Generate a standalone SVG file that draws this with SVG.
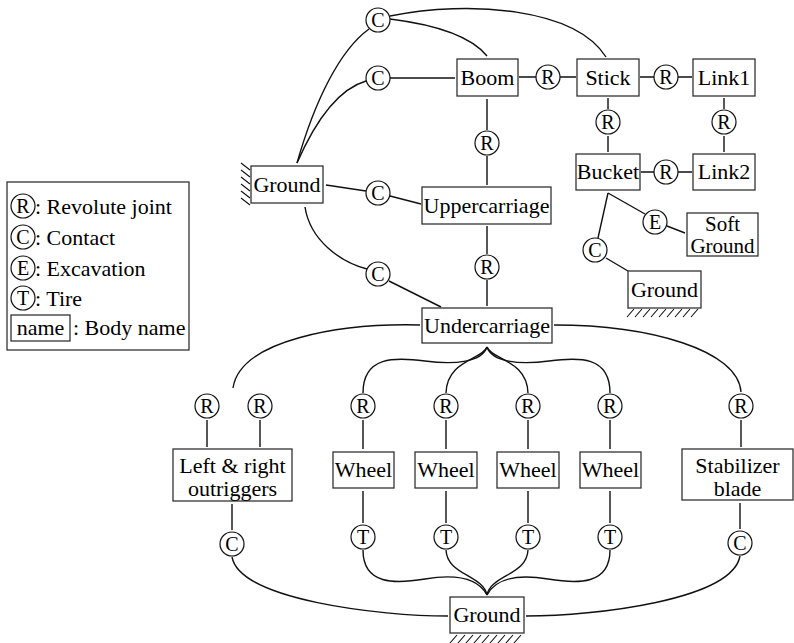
<svg xmlns="http://www.w3.org/2000/svg" width="794" height="643" viewBox="0 0 794 643">
<style>
.b{fill:#fff;stroke:#333;stroke-width:1.3}
.j{fill:#fff;stroke:#111;stroke-width:1.2}
text{font-family:"Liberation Serif","Times New Roman",serif;fill:#000}
.t{font-size:22px;text-anchor:middle}
.t2{font-size:21px;text-anchor:middle}
.jt{font-size:20px;text-anchor:middle}
.lt{font-size:22px}
.e{fill:none;stroke:#111;stroke-width:1.4}
.h{fill:none;stroke:#111;stroke-width:1.1}
</style>
<rect width="794" height="643" fill="#fff"/>

<g id="connectors">
<path class="e" d="M297,163 C315,100 340,50 369,29"/>
<path class="e" d="M297,163 C318,115 342,88 366,81"/>
<path class="e" d="M390,19 C430,24 470,35 487,56"/>
<path class="e" d="M390,16 C470,0 575,8 606,57"/>
<path class="e" d="M390,78 L455,78"/>
<path class="e" d="M519,77 L536,77 M560,77 L576,77"/>
<path class="e" d="M640,77 L654,77 M678,77 L692,77"/>
<path class="e" d="M487,99 L487,130 M487,156 L487,185"/>
<path class="e" d="M608,98 L608,109 M608,136 L608,152"/>
<path class="e" d="M724,98 L724,109 M724,136 L724,152"/>
<path class="e" d="M641,172 L654,172 M678,172 L692,172"/>
<path class="e" d="M608,193 L645,214 M667,226 L685,233"/>
<path class="e" d="M608,193 L598,238 M606,258 L628,271"/>
<path class="e" d="M326,185 L366,191 M390,196 L421,204"/>
<path class="e" d="M487,226 L487,254 M487,280 L487,306"/>
<path class="e" d="M305,207 C310,240 340,262 367,269 M389,281 L441,307"/>
<path class="e" d="M420,325 C340,323 240,340 233,388"/>
<path class="e" d="M554,325 C650,325 738,350 741,392"/>
<path class="e" d="M487,347 C482,362 455,365 425,361 C395,357 363,356 363,393"/>
<path class="e" d="M487,347 C482,360 447,360 446,393"/>
<path class="e" d="M487,347 C492,360 527,360 528,393"/>
<path class="e" d="M487,347 C492,362 519,365 549,361 C579,357 610,356 610,393"/>
<path class="e" d="M207,420 L207,447 M260,420 L260,447"/>
<path class="e" d="M363,420 L363,449 M446,420 L446,449 M528,420 L528,449 M610,420 L610,449"/>
<path class="e" d="M741,420 L741,447"/>
<path class="e" d="M232,504 L232,530 M740,503 L740,529"/>
<path class="e" d="M363,491 L363,523 M446,491 L446,523 M528,491 L528,523 M610,491 L610,523"/>
<path class="e" d="M363,550 C363,585 395,584 425,579 C455,574 478,578 487,595"/>
<path class="e" d="M446,550 C447,575 483,575 487,595"/>
<path class="e" d="M528,550 C527,575 491,575 487,595"/>
<path class="e" d="M610,550 C610,585 578,584 548,579 C518,574 496,578 487,595"/>
<path class="e" d="M232,557 C240,600 380,616 448,616"/>
<path class="e" d="M740,556 C732,600 595,616 526,616"/>
</g>

<g id="legend">
<rect class="b" x="7" y="182" width="182" height="168"/>
<circle class="j" cx="23" cy="206" r="12"/><text class="jt" x="23" y="213">R</text>
<text class="lt" x="35" y="214">: Revolute joint</text>
<circle class="j" cx="23" cy="237" r="12"/><text class="jt" x="23" y="244">C</text>
<text class="lt" x="35" y="245">: Contact</text>
<circle class="j" cx="23" cy="268" r="12"/><text class="jt" x="23" y="275">E</text>
<text class="lt" x="35" y="276">: Excavation</text>
<circle class="j" cx="23" cy="298" r="12"/><text class="jt" x="23" y="305">T</text>
<text class="lt" x="35" y="306">: Tire</text>
<rect class="b" x="11" y="315" width="59" height="26"/><text class="t" x="40.5" y="335">name</text>
<text class="lt" x="73" y="335">: Body name</text>
</g>

<g id="boom"><rect class="b" x="457" y="59" width="61" height="37"/><text class="t" x="487.5" y="85">Boom</text></g>
<g id="stick"><rect class="b" x="577" y="59" width="62" height="37"/><text class="t" x="608" y="85">Stick</text></g>
<g id="link1"><rect class="b" x="693" y="59" width="62" height="37"/><text class="t" x="724" y="85">Link1</text></g>
<g id="bucket"><rect class="b" x="576" y="154" width="64" height="36"/><text class="t" x="608" y="179">Bucket</text></g>
<g id="link2"><rect class="b" x="693" y="154" width="62" height="36"/><text class="t" x="724" y="179">Link2</text></g>
<g id="softground"><rect class="b" x="687" y="213" width="71" height="43"/><text class="t2" x="722.5" y="231">Soft</text><text class="t2" x="722.5" y="253">Ground</text></g>
<g id="ground-bucket"><rect class="b" x="628" y="271" width="73" height="37"/><text class="t" x="664.5" y="297">Ground</text>
<path class="h" d="M627,317 L634,309 M635,317 L642,309 M643,317 L650,309 M651,317 L658,309 M659,317 L666,309 M667,317 L674,309 M675,317 L682,309 M683,317 L690,309 M691,317 L698,309"/></g>
<g id="ground-left"><rect class="b" x="251" y="166" width="72" height="37"/><text class="t" x="287" y="192">Ground</text>
<path class="h" d="M241,163 L250,170 M241,170 L250,177 M241,177 L250,184 M241,184 L250,191 M241,191 L250,198 M241,198 L250,205"/></g>
<g id="uppercarriage"><rect class="b" x="422" y="187" width="129" height="37"/><text class="t" x="486.5" y="213">Uppercarriage</text></g>
<g id="undercarriage"><rect class="b" x="422" y="308" width="130" height="35"/><text class="t" x="487" y="333">Undercarriage</text></g>
<g id="outriggers"><rect class="b" x="173" y="449" width="119" height="52"/><text class="t" x="232.5" y="473">Left &amp; right</text><text class="t" x="232.5" y="496">outriggers</text></g>
<g id="wheel1"><rect class="b" x="333" y="452" width="61" height="36"/><text class="t" x="363.5" y="477">Wheel</text></g>
<g id="wheel2"><rect class="b" x="415" y="452" width="62" height="36"/><text class="t" x="446" y="477">Wheel</text></g>
<g id="wheel3"><rect class="b" x="497" y="452" width="62" height="36"/><text class="t" x="528" y="477">Wheel</text></g>
<g id="wheel4"><rect class="b" x="580" y="452" width="61" height="36"/><text class="t" x="610.5" y="477">Wheel</text></g>
<g id="stabilizer"><rect class="b" x="682" y="449" width="111" height="51"/><text class="t" x="737.5" y="473">Stabilizer</text><text class="t" x="737.5" y="496">blade</text></g>
<g id="ground-bottom"><rect class="b" x="450" y="597" width="74" height="36"/><text class="t" x="487" y="622">Ground</text>
<path class="h" d="M450,643 L457,635 M458,643 L465,635 M466,643 L473,635 M474,643 L481,635 M482,643 L489,635 M490,643 L497,635 M498,643 L505,635 M506,643 L513,635 M514,643 L521,635"/></g>

<g id="j-c-top"><circle class="j" cx="378" cy="20" r="12"/><text class="jt" x="378" y="27">C</text></g>
<g id="j-c-boom"><circle class="j" cx="378" cy="78" r="12"/><text class="jt" x="378" y="85">C</text></g>
<g id="j-r-boom-stick"><circle class="j" cx="548" cy="77" r="12"/><text class="jt" x="548" y="84">R</text></g>
<g id="j-r-stick-link1"><circle class="j" cx="666" cy="77" r="12"/><text class="jt" x="666" y="84">R</text></g>
<g id="j-r-boom-upper"><circle class="j" cx="487" cy="143" r="12"/><text class="jt" x="487" y="150">R</text></g>
<g id="j-r-stick-bucket"><circle class="j" cx="608" cy="122" r="12"/><text class="jt" x="608" y="129">R</text></g>
<g id="j-r-link1-link2"><circle class="j" cx="724" cy="122" r="12"/><text class="jt" x="724" y="129">R</text></g>
<g id="j-r-bucket-link2"><circle class="j" cx="666" cy="172" r="12"/><text class="jt" x="666" y="179">R</text></g>
<g id="j-e"><circle class="j" cx="655" cy="222" r="12"/><text class="jt" x="655" y="229">E</text></g>
<g id="j-c-bucket"><circle class="j" cx="595" cy="250" r="12"/><text class="jt" x="595" y="257">C</text></g>
<g id="j-c-upper"><circle class="j" cx="378" cy="193" r="12"/><text class="jt" x="378" y="200">C</text></g>
<g id="j-r-upper-under"><circle class="j" cx="487" cy="267" r="12"/><text class="jt" x="487" y="274">R</text></g>
<g id="j-c-under"><circle class="j" cx="378" cy="274" r="12"/><text class="jt" x="378" y="281">C</text></g>
<g id="j-r-out1"><circle class="j" cx="207" cy="406" r="12"/><text class="jt" x="207" y="413">R</text></g>
<g id="j-r-out2"><circle class="j" cx="260" cy="406" r="12"/><text class="jt" x="260" y="413">R</text></g>
<g id="j-r-w1"><circle class="j" cx="363" cy="406" r="12"/><text class="jt" x="363" y="413">R</text></g>
<g id="j-r-w2"><circle class="j" cx="446" cy="406" r="12"/><text class="jt" x="446" y="413">R</text></g>
<g id="j-r-w3"><circle class="j" cx="528" cy="406" r="12"/><text class="jt" x="528" y="413">R</text></g>
<g id="j-r-w4"><circle class="j" cx="610" cy="406" r="12"/><text class="jt" x="610" y="413">R</text></g>
<g id="j-r-stab"><circle class="j" cx="741" cy="406" r="12"/><text class="jt" x="741" y="413">R</text></g>
<g id="j-c-out"><circle class="j" cx="232" cy="544" r="12"/><text class="jt" x="232" y="551">C</text></g>
<g id="j-t1"><circle class="j" cx="363" cy="537" r="12"/><text class="jt" x="363" y="544">T</text></g>
<g id="j-t2"><circle class="j" cx="446" cy="537" r="12"/><text class="jt" x="446" y="544">T</text></g>
<g id="j-t3"><circle class="j" cx="528" cy="537" r="12"/><text class="jt" x="528" y="544">T</text></g>
<g id="j-t4"><circle class="j" cx="610" cy="537" r="12"/><text class="jt" x="610" y="544">T</text></g>
<g id="j-c-stab"><circle class="j" cx="740" cy="543" r="12"/><text class="jt" x="740" y="550">C</text></g>
</svg>
